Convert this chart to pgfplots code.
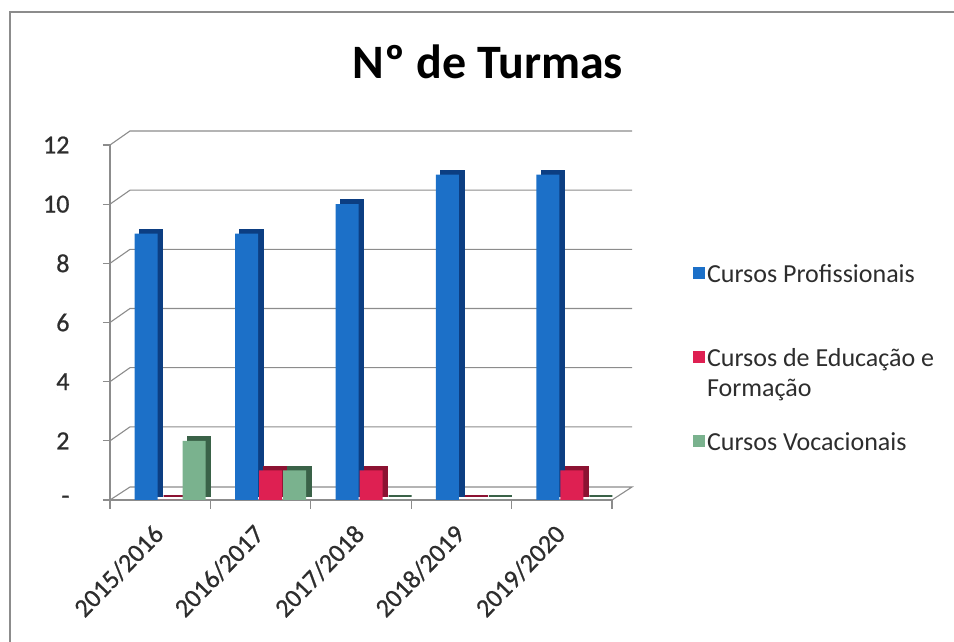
\documentclass[border=0pt]{standalone}
\usepackage{pgfplots}
\pgfplotsset{compat=1.18}
\usepackage{fontspec}
\setmainfont{Carlito}
\newfontfamily\tickfont{Carlito}[FakeBold=0.8]
\definecolor{cblue}{RGB}{28,112,200}
\definecolor{cblueD}{RGB}{12,62,130}
\definecolor{cred}{RGB}{222,32,82}
\definecolor{credD}{RGB}{140,18,50}
\definecolor{cgreen}{RGB}{122,178,142}
\definecolor{cgreenD}{RGB}{58,98,72}
\definecolor{gridc}{RGB}{140,140,140}
\definecolor{txt}{RGB}{45,45,45}
\pgfplotsset{sqlegend/.style={legend image code/.code={\fill[##1] (0pt,-5pt) rectangle (12pt,7pt);}}}
\begin{document}
\begin{tikzpicture}[x=1pt,y=1pt]
\useasboundingbox (0,0) rectangle (954,642);
\draw[gridc, line width=1.6pt] (10,-5) -- (10,630) -- (960,630);
\node[font=\fontsize{48}{54}\selectfont\bfseries, text=black] at (488,580) {Nº de Turmas};
\begin{axis}[
  at={(110pt,142pt)}, anchor=south west,
  scale only axis, width=502pt, height=355pt,
  xmin=-0.5, xmax=4.5, ymin=0, ymax=12,
  clip=false,
  axis x line*=bottom, axis y line*=left,
  axis line style={gridc, line width=1.2pt},
  tick style={gridc, line width=1.2pt},
  tick align=outside,
  xtick={0,1,2,3,4},
  xticklabels={2015/2016,2016/2017,2017/2018,2018/2019,2019/2020},
  major x tick style={draw=none},
  minor xtick={-0.5,0.5,1.5,2.5,3.5,4.5},
  minor tick length=9pt,
  major tick length=7pt,
  ytick={0,2,4,6,8,10,12},
  yticklabels={{-\hspace{16pt}},2,4,6,8,10,12},
  /pgf/number format/assume math mode=true,
  ticklabel style={font=\tickfont\fontsize{26}{30}\selectfont, text=txt},
  yticklabel style={xshift=-30pt},
  xticklabel style={rotate=46, anchor=north east, inner sep=1pt, yshift=-4pt, xshift=-16pt},
  legend style={at={(1.155,0.40)}, anchor=west, draw=none, fill=none,
    font=\fontsize{26}{30}\selectfont, text=txt, cells={align=left}, row sep=30pt},
  legend cell align=left,
]
\pgfplotsinvokeforeach{2,4,6,8,10,12}{
  \draw[gridc, line width=1.1pt] (axis cs:-0.5,#1) -- ++(20pt,14pt) -- ([xshift=20pt,yshift=14pt]axis cs:4.5,#1);
}
\draw[gridc, line width=1.1pt] (axis cs:-0.5,0) -- ++(20pt,13pt) -- ([xshift=20pt,yshift=13pt]axis cs:4.5,0) -- (axis cs:4.5,0);

% Cursos Profissionais
\addplot[ybar, bar width=23pt, bar shift=-14pt, fill=cblueD, draw=cblueD, line width=1.5pt, xshift=5pt, yshift=4pt, forget plot]
  coordinates {(0,9) (1,9) (2,10) (3,11) (4,11)};
\addplot[ybar, bar width=23pt, bar shift=-14pt, fill=cblue, draw=none, sqlegend]
  coordinates {(0,9) (1,9) (2,10) (3,11) (4,11)};
% Cursos de Educação e Formação
\addplot[ybar, bar width=23pt, bar shift=10pt, fill=credD, draw=credD, line width=1.5pt, xshift=5pt, yshift=4pt, forget plot]
  coordinates {(0,0) (1,1) (2,1) (3,0) (4,1)};
\addplot[ybar, bar width=23pt, bar shift=10pt, fill=cred, draw=none, sqlegend]
  coordinates {(0,0) (1,1) (2,1) (3,0) (4,1)};
% Cursos Vocacionais
\addplot[ybar, bar width=23pt, bar shift=34pt, fill=cgreenD, draw=cgreenD, line width=1.5pt, xshift=5pt, yshift=4pt, forget plot]
  coordinates {(0,2) (1,1) (2,0) (3,0) (4,0)};
\addplot[ybar, bar width=23pt, bar shift=34pt, fill=cgreen, draw=none, sqlegend]
  coordinates {(0,2) (1,1) (2,0) (3,0) (4,0)};
\legend{Cursos Profissionais, {\rule{0pt}{49pt}Cursos de Educação e\\Formação}, Cursos Vocacionais}
\end{axis}
\end{tikzpicture}
\end{document}
